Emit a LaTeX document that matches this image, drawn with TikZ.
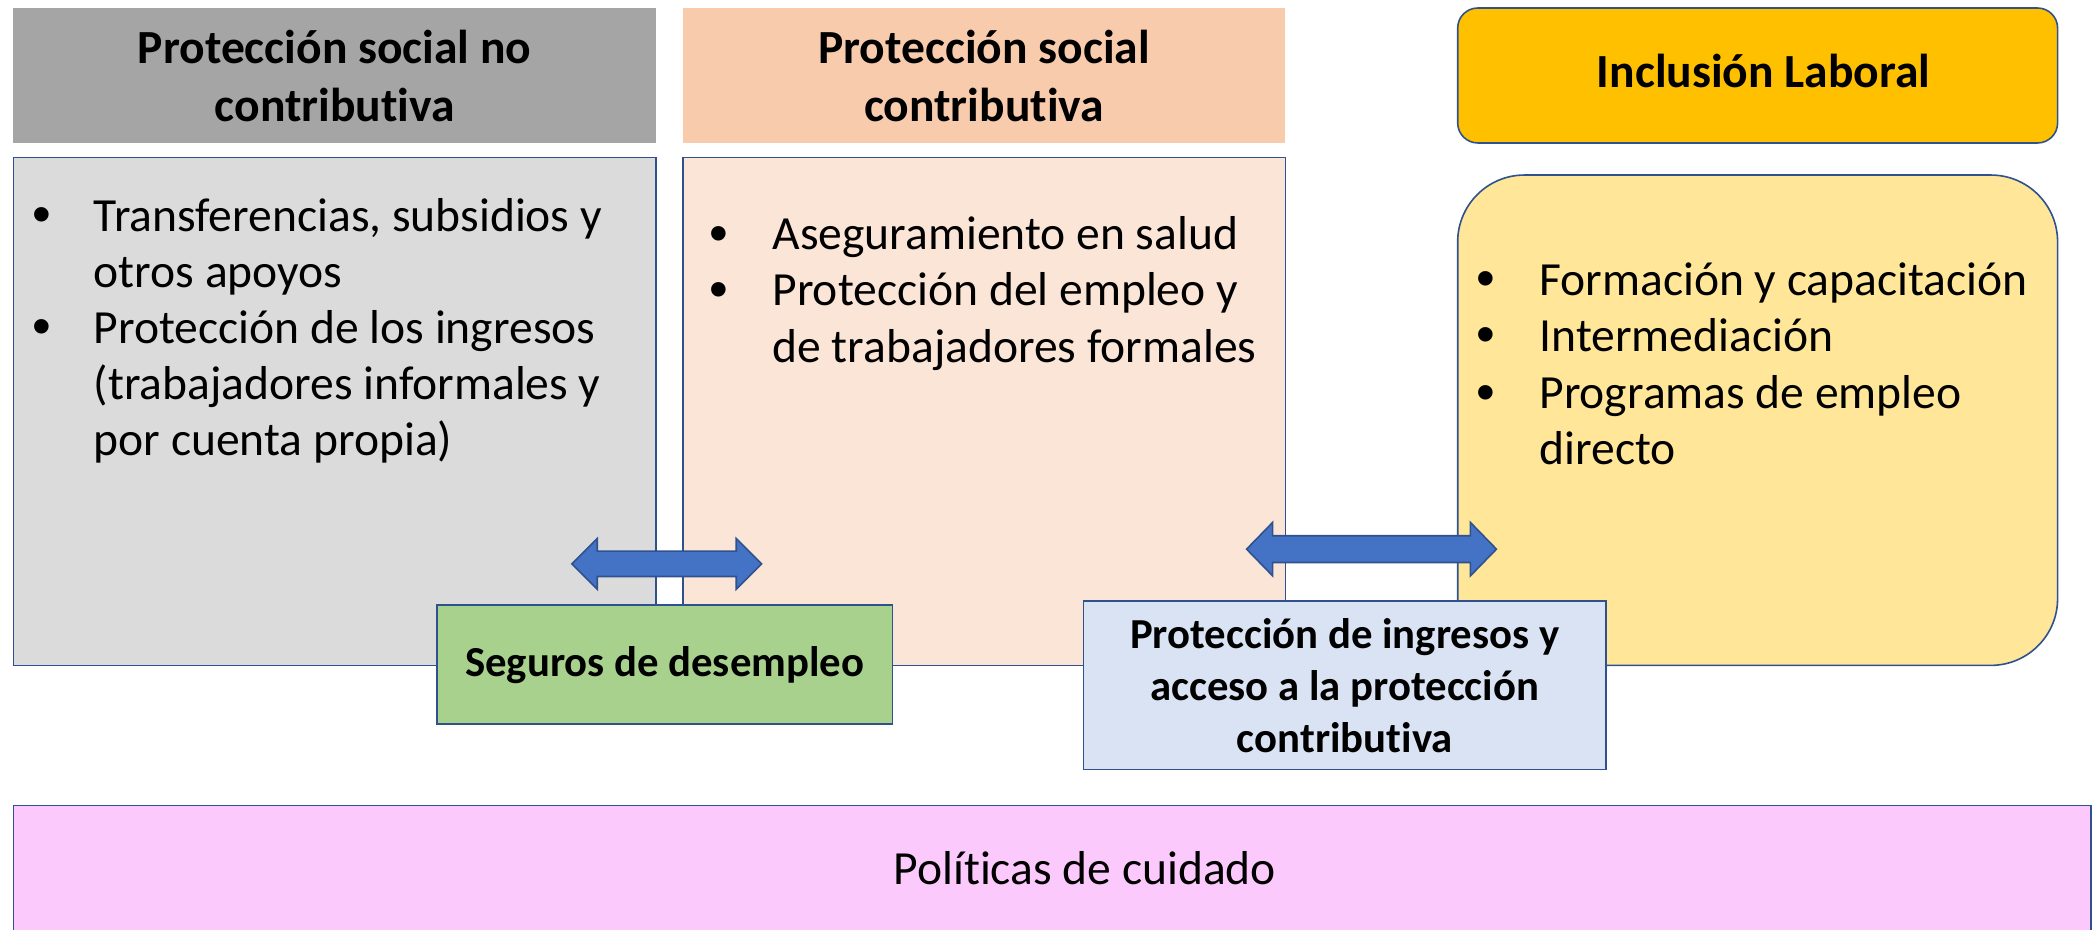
\documentclass[tikz,border=0pt]{standalone}
\usepackage{fontspec}
\setmainfont{Carlito}[Ligatures=CommonOff,RawFeature={-liga;-clig;-dlig}]
\newfontfamily\bulfont{Liberation Sans}
\definecolor{bord}{HTML}{2F528F}
\definecolor{greyH}{HTML}{A5A5A5}
\definecolor{greyB}{HTML}{DBDBDB}
\definecolor{orH}{HTML}{F8CBAD}
\definecolor{orB}{HTML}{FBE5D6}
\definecolor{goldH}{HTML}{FFC000}
\definecolor{yelB}{HTML}{FFE699}
\definecolor{grn}{HTML}{A9D18E}
\definecolor{blu}{HTML}{DAE3F3}
\definecolor{pnk}{HTML}{FCC9FC}
\definecolor{arr}{HTML}{4472C4}
\begin{document}
\begin{tikzpicture}[x=1pt,y=-1pt,
  box/.style={draw=bord,line width=1.2pt},
  hdr/.style={font=\fontsize{35.6}{43}\selectfont\bfseries,align=center,inner sep=0},
  txt/.style={font=\fontsize{35.6}{42}\selectfont,anchor=base west,inner sep=0},
  btxt/.style={font=\fontsize{32}{39}\selectfont\bfseries,align=center,inner sep=0},
  bul/.style={font=\bulfont\fontsize{40}{42}\selectfont,anchor=base west,inner sep=0},
  arrw/.style={draw=bord,line width=1.2pt,fill=arr,line join=miter}]
\useasboundingbox (0,0) rectangle (1568,696);
% headers
\fill[greyH] (10,6) rectangle (491,107);
\node[hdr] (h1) at (250.5,57) {Protección social no\\contributiva};
\fill[orH] (511,6) rectangle (962,107);
\node[hdr] (h2) at (736.5,57) {Protección social\\contributiva};
\draw[box,fill=goldH,rounded corners=15pt] (1091,6) rectangle (1540,107);
\node[hdr] (h3) at (1320,53) {Inclusión Laboral};
% bodies
\draw[box,fill=greyB] (10,118) rectangle (491,498);
\draw[box,fill=orB] (511,118) rectangle (962,498);
\draw[box,fill=yelB,rounded corners=50pt] (1091,131) rectangle (1540,498);
% grey text
\node[bul] (gb1) at (24,174) {•};
\node[txt] (g1) at (70,173) {Transferencias, subsidios y};
\node[txt] (g2) at (70,215) {otros apoyos};
\node[bul] (gb2) at (24,258) {•};
\node[txt] (g3) at (70,257) {Protección de los ingresos};
\node[txt] (g4) at (70,299) {(trabajadores informales y};
\node[txt] (g5) at (70,341) {por cuenta propia)};
% orange text
\node[bul] (ob1) at (531,188) {•};
\node[txt] (o1) at (578,187) {Aseguramiento en salud};
\node[bul] (ob2) at (531,230) {•};
\node[txt] (o2) at (578,229) {Protección del empleo y};
\node[txt] (o3) at (578,271) {de trabajadores formales};
% yellow text
\node[bul] (yb1) at (1105,222) {•};
\node[txt] (y1) at (1152,221) {Formación y capacitación};
\node[bul] (yb2) at (1105,264) {•};
\node[txt] (y2) at (1152,263) {Intermediación};
\node[bul] (yb3) at (1105,307) {•};
\node[txt] (y3) at (1152,306) {Programas de empleo};
\node[txt] (y4) at (1152,348) {directo};
% arrows
\draw[arrw] (428,422) -- (447,403) -- (447,412.5) -- (551,412.5) -- (551,403) -- (570,422)
  -- (551,441) -- (551,431.5) -- (447,431.5) -- (447,441) -- cycle;
\draw[arrw] (933,411) -- (952.5,391) -- (952.5,401) -- (1100.5,401) -- (1100.5,391) -- (1120,411)
  -- (1100.5,431) -- (1100.5,421) -- (952.5,421) -- (952.5,431) -- cycle;
% green and blue boxes
\draw[box,fill=grn] (327,453) rectangle (668,542);
\node[btxt] (s1) at (497.5,497.5) {Seguros de desempleo};
\draw[box,fill=blu] (811,450) rectangle (1202,576);
\node[btxt] (s2) at (1006.5,513) {Protección de ingresos y\\acceso a la protección\\contributiva};
% pink
\draw[box,fill=pnk] (10,603) rectangle (1565,710);
\node[font=\fontsize{35.6}{42}\selectfont,inner sep=0] (p1) at (812,650) {Políticas de cuidado};
\end{tikzpicture}
\end{document}
